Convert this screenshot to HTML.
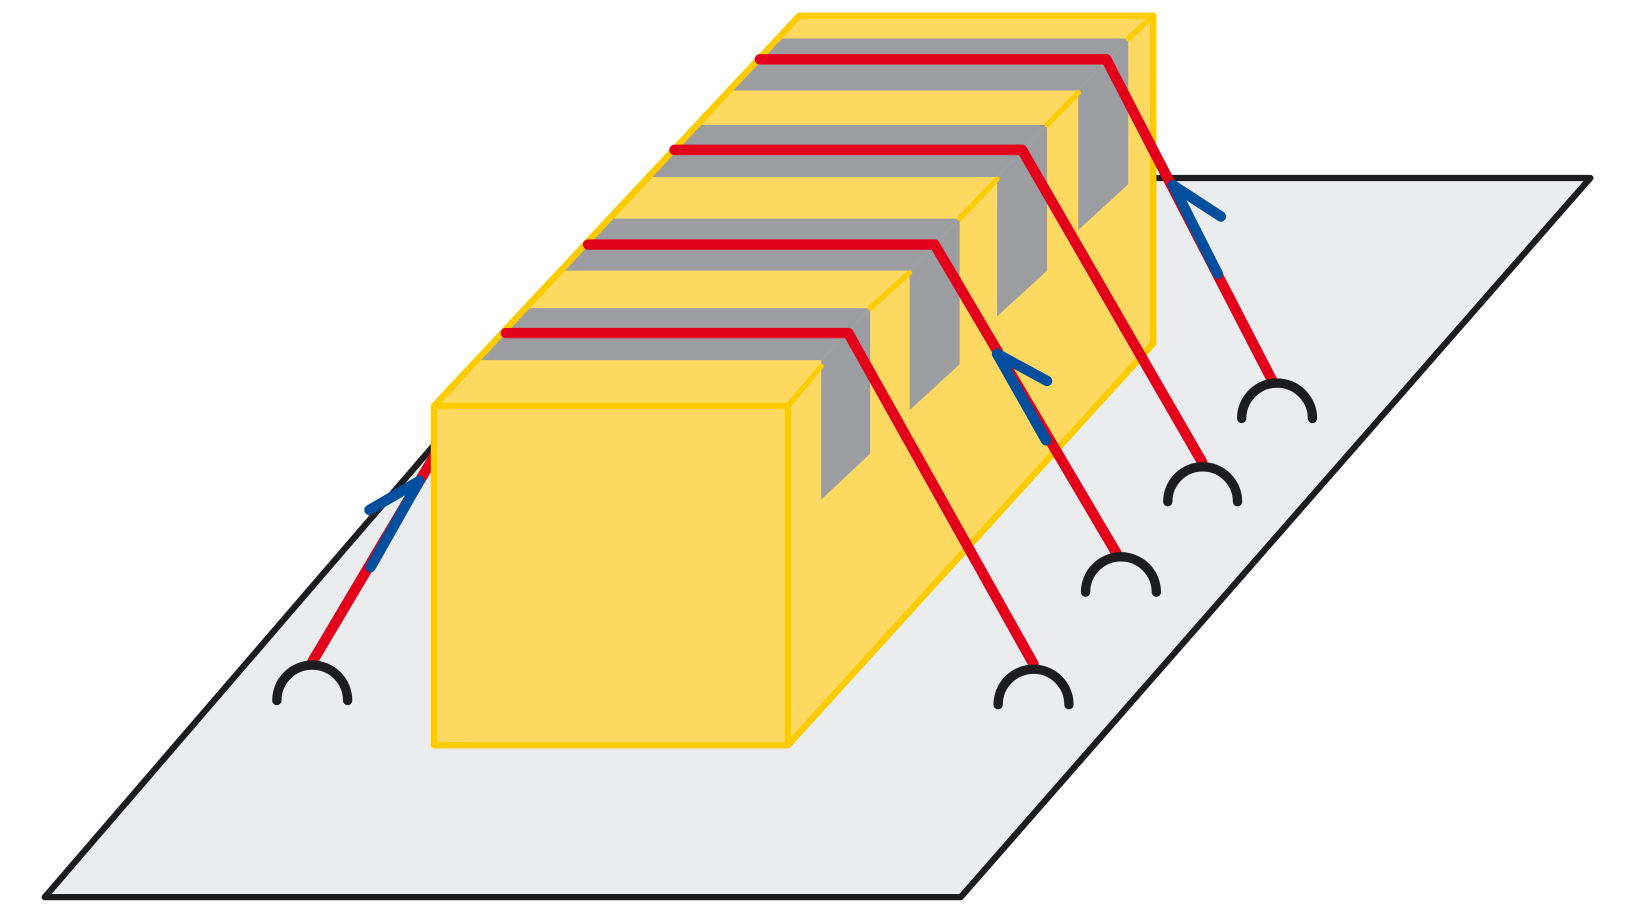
<!DOCTYPE html>
<html><head><meta charset="utf-8"><style>html,body{margin:0;padding:0;background:#fff;}svg{display:block}</style></head>
<body>
<svg width="1632" height="918" viewBox="0 0 1568 882" xmlns="http://www.w3.org/2000/svg" preserveAspectRatio="none">
<g stroke-linecap="round" stroke-linejoin="round" fill="none">
<polygon points="43,862 638,171 1528,171 923,862" fill="#EBECED" stroke="#1D1D1F" stroke-width="6"/>
<polyline points="440,400 300,636" stroke="#E2001A" stroke-width="10"/>
<polyline points="403,462 356,545" stroke="#004F9E" stroke-width="10"/>
<polyline points="403,462 355,490" stroke="#004F9E" stroke-width="10"/>
<path d="M266,673 A34,34 0 0 1 334,673" stroke="#1D1D1F" stroke-width="9"/>
<polygon points="417,390 768,15 1108,15 1108,330 757,716 417,716" fill="#FDD962" stroke="#FDCC00" stroke-width="6"/>
<g fill="#9C9DA0" stroke="none">
<polygon points="747,37 1084,37 1036,87 700,87"/>
<polygon points="1084,37 1084,177 1036,221 1036,87"/>
<polygon points="670,120 1006,120 958,170 623,170"/>
<polygon points="1006,120 1006,260 958,304 958,170"/>
<polygon points="586,210 922,210 874,260 539,260"/>
<polygon points="922,210 922,350 874,394 874,260"/>
<polygon points="505,296 836,296 789,346 458,346"/>
<polygon points="836,296 836,436 789,480 789,346"/>
</g>
<g stroke="#FDCC00" stroke-width="5">
<line x1="1084" y1="37" x2="1106" y2="17"/>
<line x1="1006" y1="120" x2="1036" y2="89"/>
<line x1="922" y1="210" x2="958" y2="172"/>
<line x1="836" y1="296" x2="874" y2="262"/>
<line x1="757" y1="390" x2="789" y2="352"/>
<polyline points="417,390 757,390 757,716" stroke-width="6"/>
<polygon points="417,390 768,15 1108,15 1108,330 757,716 417,716" stroke-width="6"/>
</g>
<g stroke="#E2001A" stroke-width="10">
<polyline points="730,57 1063,57 1222,365"/>
<polyline points="648,144 982,144 1155,444"/>
<polyline points="565,235 898,235 1073,532"/>
<polyline points="486,320 815,320 993,638"/>
</g>
<g stroke="#004F9E" stroke-width="10">
<line x1="1127" y1="178" x2="1170" y2="263"/>
<line x1="1127" y1="178" x2="1173" y2="208"/>
<line x1="958" y1="340" x2="1005" y2="423"/>
<line x1="958" y1="340" x2="1006" y2="366"/>
</g>
<g stroke="#1D1D1F" stroke-width="9">
<path d="M1193,402 A34,34 0 0 1 1261,402"/>
<path d="M1122,482 A33.5,33.5 0 0 1 1189,482"/>
<path d="M1043,569 A34,34 0 0 1 1111,569"/>
<path d="M959,677 A34,34 0 0 1 1027,677"/>
</g>
</g>
</svg>
</body></html>
